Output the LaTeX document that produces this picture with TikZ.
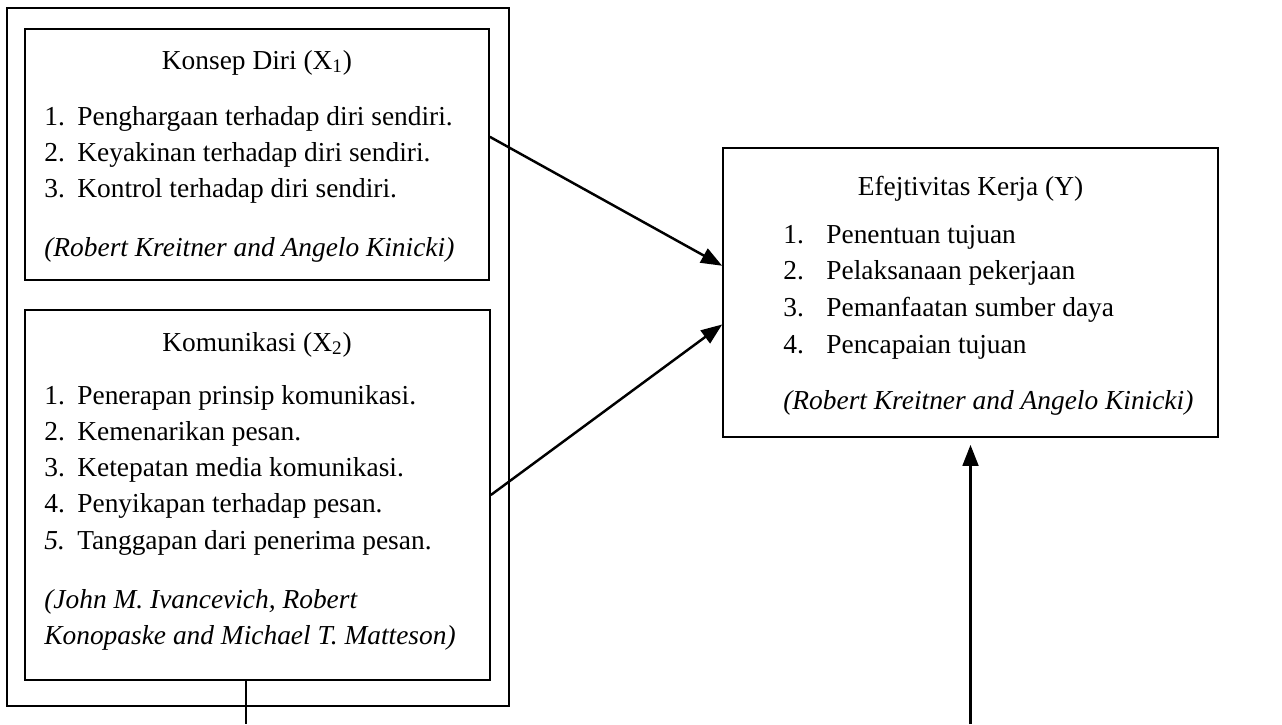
\documentclass[tikz,border=0pt]{standalone}
\usepackage{fontspec}
\setmainfont{Liberation Serif}
\usetikzlibrary{arrows.meta,calc}

\tikzset{
  kotak/.style={draw=black, line width=1pt, inner sep=0pt},
  teks/.style={anchor=base west, inner sep=0pt, font=\fontsize{15.6}{19}\selectfont},
  judul/.style={anchor=base, inner sep=0pt, font=\fontsize{15.6}{19}\selectfont},
  panah/.style={line width=1.4pt, -{Triangle[length=12pt,width=9pt]}},
  garis/.style={line width=1.4pt}
}

\begin{document}
\begin{tikzpicture}[x=0.02cm, y=-0.02cm]
    \useasboundingbox (0,0) rectangle (1282,724);

    % kotak variabel
    \node[kotak, minimum width=10.04cm, minimum height=13.96cm] (luar) at (258,357) {};
    \node[kotak, minimum width=9.28cm, minimum height=5.02cm] (konsep) at (257,154.5) {};
    \node[kotak, minimum width=9.3cm, minimum height=7.4cm] (komunikasi) at (257.5,495) {};
    \node[kotak, minimum width=9.9cm, minimum height=5.78cm] (efektivitas) at (970.5,292.5) {};

    % konsep diri
    \node[judul] (judulx1) at (257,69) {Konsep Diri (X\textsubscript{1})};
    \node[teks] (ax1) at (44,125) {1.};
    \node[teks] (bx1) at (44,161) {2.};
    \node[teks] (cx1) at (44,197) {3.};
    \node[teks] (ix1) at (77,125) {Penghargaan terhadap diri sendiri.};
    \node[teks] (iix1) at (77,161) {Keyakinan terhadap diri sendiri.};
    \node[teks] (iiix1) at (77,197) {Kontrol terhadap diri sendiri.};
    \node[teks] (sumberx1) at (44,256) {\itshape (Robert Kreitner and Angelo Kinicki)};

    % komunikasi
    \node[judul] (judulx2) at (257,351) {Komunikasi (X\textsubscript{2})};
    \node[teks] (ax2) at (44,404) {1.};
    \node[teks] (bx2) at (44,440) {2.};
    \node[teks] (cx2) at (44,476) {3.};
    \node[teks] (dx2) at (44,512) {4.};
    \node[teks] (ex2) at (44,549) {\itshape 5.};
    \node[teks] (ix2) at (77,404) {Penerapan prinsip komunikasi.};
    \node[teks] (iix2) at (77,440) {Kemenarikan pesan.};
    \node[teks] (iiix2) at (77,476) {Ketepatan media komunikasi.};
    \node[teks] (ivx2) at (77,512) {Penyikapan terhadap pesan.};
    \node[teks] (vx2) at (77,549) {Tanggapan dari penerima pesan.};
    \node[teks] (sumberx2a) at (44,608) {\itshape (John M. Ivancevich, Robert};
    \node[teks] (sumberx2b) at (44,644) {\itshape Konopaske and Michael T. Matteson)};

    % efektivitas kerja
    \node[judul] (juduly) at (970.5,195) {Efejtivitas Kerja (Y)};
    \node[teks] (ay) at (783,243) {1.};
    \node[teks] (by) at (783,279) {2.};
    \node[teks] (cy) at (783,316) {3.};
    \node[teks] (dy) at (783,353) {4.};
    \node[teks] (iy) at (826,243) {Penentuan tujuan};
    \node[teks] (iiy) at (826,279) {Pelaksanaan pekerjaan};
    \node[teks] (iiiy) at (826,316) {Pemanfaatan sumber daya};
    \node[teks] (ivy) at (826,353) {Pencapaian tujuan};
    \node[teks] (sumbery) at (783,409) {\itshape (Robert Kreitner and Angelo Kinicki)};

    % panah
    \coordinate (bawahx) at ($(komunikasi.south west)!0.475!(komunikasi.south east)$);
    \coordinate (ujungx) at (bawahx |- 0,724);
    \coordinate (ujungy) at (efektivitas.south |- 0,724);
    \draw[panah] ($(konsep.north east)!0.43!(konsep.south east)$) -- ($(efektivitas.north west)!0.408!(efektivitas.south west)$);
    \draw[panah] (komunikasi.east) -- ($(efektivitas.north west)!0.61!(efektivitas.south west)$);
    \draw[garis] (bawahx) -- (ujungx);
    \draw[panah, shorten >=0.14cm] (ujungy) -- (efektivitas.south);
  \end{tikzpicture}
\end{document}
